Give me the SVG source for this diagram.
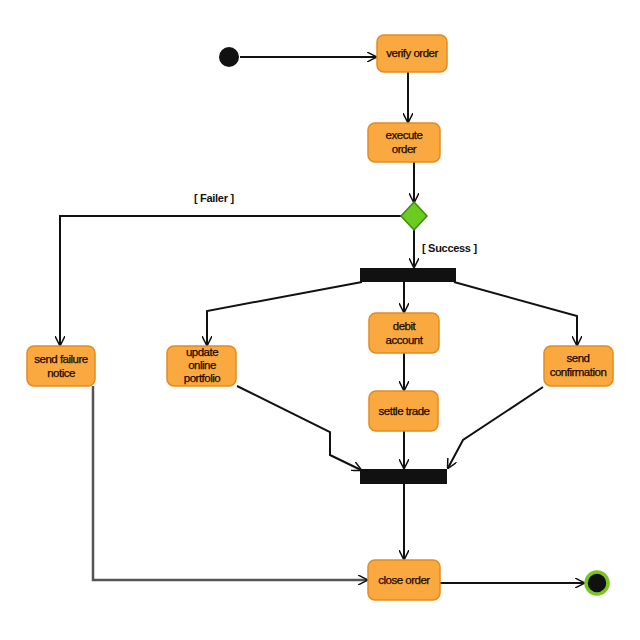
<svg xmlns="http://www.w3.org/2000/svg" width="640" height="640" viewBox="0 0 640 640">
<style>
.act{fill:#F9A93F;stroke:#E48A1E;stroke-width:1.5}
.t{font-family:"Liberation Sans",Arial,sans-serif;font-size:11.5px;fill:#1a0800;text-anchor:middle;letter-spacing:-0.5px;stroke:#1a0800;stroke-width:0.25}
.lbl{font-family:"Liberation Sans",Arial,sans-serif;font-size:11px;font-weight:bold;fill:#111;letter-spacing:-0.3px}
.c{fill:none;stroke:#111;stroke-width:2}
.g{fill:none;stroke:#555;stroke-width:2.5}
</style>
<defs>
<marker id="a" viewBox="0 0 10 10" refX="9" refY="5" markerWidth="10" markerHeight="10" markerUnits="userSpaceOnUse" orient="auto">
<path d="M0,0 L10,5 L0,10" fill="none" stroke="#111" stroke-width="1.5"/>
</marker>
</defs>
<rect width="640" height="640" fill="#fff"/>
<g id="connectors">
<line class="c" x1="240" y1="57" x2="376" y2="57" marker-end="url(#a)"/>
<line class="c" x1="408" y1="72" x2="408" y2="122" marker-end="url(#a)"/>
<line class="c" x1="414" y1="162" x2="414" y2="202" marker-end="url(#a)"/>
<polyline class="c" points="402,216 60,216 60,345" marker-end="url(#a)"/>
<line class="c" x1="414" y1="230" x2="414" y2="267" marker-end="url(#a)"/>
<polyline class="c" points="362,282 207,311 207,345" marker-end="url(#a)"/>
<line class="c" x1="404" y1="282" x2="404" y2="312" marker-end="url(#a)"/>
<polyline class="c" points="454,282 577,316 577,345" marker-end="url(#a)"/>
<line class="c" x1="404" y1="353" x2="404" y2="390" marker-end="url(#a)"/>
<polyline class="c" points="237,386 330,432 330,455 361,470" marker-end="url(#a)"/>
<line class="c" x1="404" y1="431" x2="404" y2="468" marker-end="url(#a)"/>
<polyline class="c" points="543,387 463,440 448,468" marker-end="url(#a)"/>
<line class="c" x1="404" y1="484" x2="404" y2="559" marker-end="url(#a)"/>
<polyline class="g" points="93,386 93,580 367,580" marker-end="url(#a)"/>
<line class="c" x1="440" y1="583" x2="584" y2="583" marker-end="url(#a)"/>
<text class="lbl" x="194" y="202">[ Failer ]</text>
<text class="lbl" x="422" y="252">[ Success ]</text>
</g>
<g id="start"><circle cx="229" cy="57" r="10" fill="#111"/></g>
<g id="verify"><rect class="act" x="377" y="35" width="70" height="37" rx="7"/><text class="t" x="412" y="57">verify order</text></g>
<g id="execute"><rect class="act" x="368" y="123" width="72" height="39" rx="7"/><text class="t" x="404" y="139">execute</text><text class="t" x="404" y="153">order</text></g>
<g id="decision"><polygon points="414,202 427,216 414,230 401,216" fill="#6BCB1F" stroke="#3F8A0E" stroke-width="1.5"/></g>
<g id="fork"><rect x="360" y="268" width="96" height="14" fill="#111"/></g>
<g id="failure"><rect class="act" x="27" y="346" width="68" height="40" rx="7"/><text class="t" x="61" y="363">send failure</text><text class="t" x="61" y="377">notice</text></g>
<g id="portfolio"><rect class="act" x="167" y="346" width="69" height="40" rx="7"/><text class="t" x="202" y="356">update</text><text class="t" x="202" y="369">online</text><text class="t" x="202" y="382">portfolio</text></g>
<g id="debit"><rect class="act" x="369" y="313" width="70" height="40" rx="7"/><text class="t" x="404" y="330">debit</text><text class="t" x="404" y="344">account</text></g>
<g id="confirm"><rect class="act" x="544" y="346" width="69" height="40" rx="7"/><text class="t" x="578" y="362">send</text><text class="t" x="578" y="376">confirmation</text></g>
<g id="settle"><rect class="act" x="369" y="391" width="69" height="40" rx="7"/><text class="t" x="404" y="415">settle trade</text></g>
<g id="join"><rect x="360" y="469" width="87" height="15" fill="#111"/></g>
<g id="close"><rect class="act" x="368" y="560" width="72" height="40" rx="7"/><text class="t" x="404" y="584">close order</text></g>
<g id="end"><circle cx="597" cy="583" r="11" fill="#111" stroke="#7CC520" stroke-width="3.5"/></g>
</svg>
